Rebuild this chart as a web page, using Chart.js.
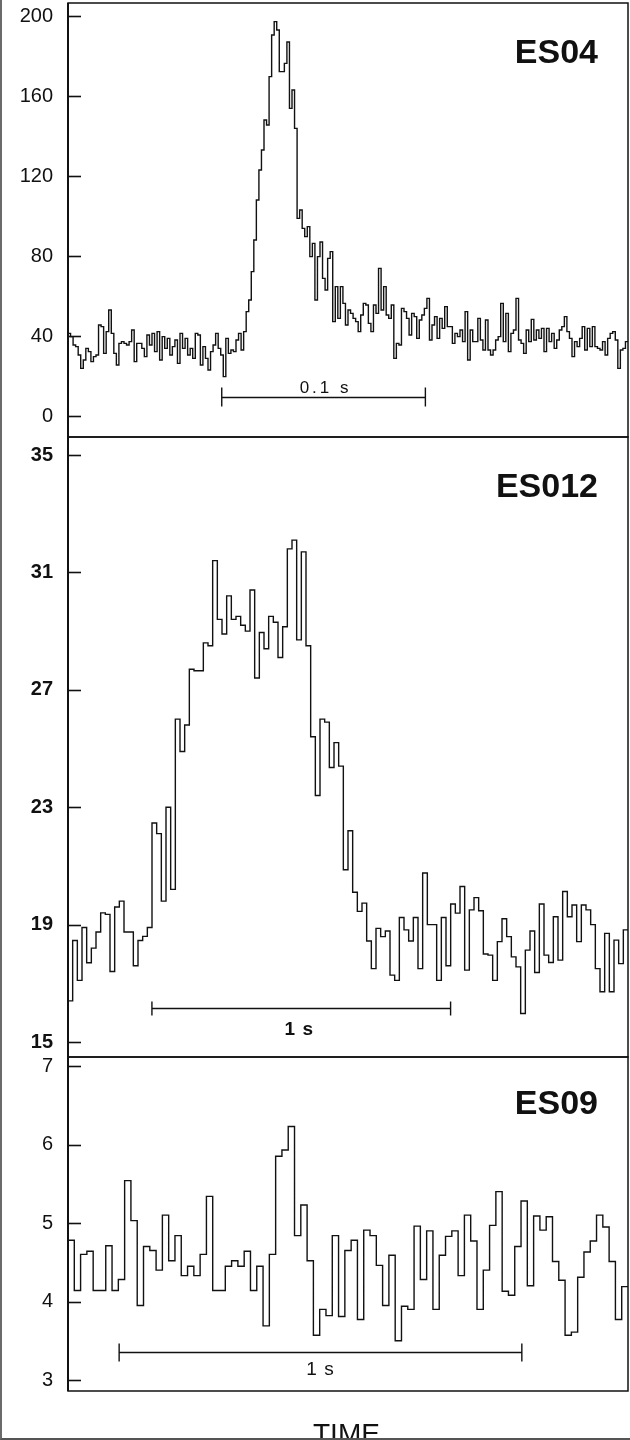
<!DOCTYPE html>
<html>
<head>
<meta charset="utf-8">
<script src="https://cdn.jsdelivr.net/npm/chart.js@4.4.1/dist/chart.umd.min.js"></script>
<style>
  html, body { margin: 0; padding: 0; background: #fff; width: 630px; height: 1440px; overflow: hidden; }
  .panel { position: absolute; left: 0; width: 630px; }
  .panel canvas { display: block; }
  #frame { position: absolute; left: 0; top: 0; width: 630px; height: 1440px; box-sizing: border-box;
           border-left: 2px solid #6a6a6a; border-bottom: 2px solid #555; pointer-events: none; }
</style>
</head>
<body>
<div class="panel" style="top:0px;height:440px"><canvas id="es04" width="630" height="440"></canvas></div>
<div class="panel" style="top:434px;height:626px"><canvas id="es012" width="630" height="626"></canvas></div>
<div class="panel" style="top:1054px;height:386px"><canvas id="es09" width="630" height="386"></canvas></div>
<div id="frame"></div>
<script>
// Light curves: counts per time bin for each source
const panelNames = ['ES04', 'ES012', 'ES09'];

// ES04: 1.25 ms bins
const es04BinSeconds = 0.00125;
const es04Counts = [
  41.3, 39.7, 35.5, 34.7, 30.5, 23.8, 28, 33.8, 32.2, 27.2,
  29.7, 30.5, 45.5, 44.7, 31.3, 42.2, 53, 41.3, 31.3, 25.5,
  36.3, 37.2, 36.3, 35.5, 37.2, 43, 27.2, 36.3, 36.3, 33.8,
  29.7, 40.5, 35.5, 41.3, 32.2, 42.2, 28, 39.7, 33.8, 38.8,
  30.5, 34.7, 38, 26.3, 41.3, 33.8, 38.8, 30.5, 33.8, 28.8,
  41.3, 40.5, 25.5, 34.7, 28.8, 23, 32.2, 35.5, 41.3, 33.8,
  30.5, 19.7, 38.8, 31.3, 33, 32.2,
  38, 41.3, 33,
  42.2, 52.2, 58, 72.2, 88, 108, 123, 133, 148, 145.5,
  169.7, 190.5, 197.2, 193, 172.2, 172.2, 176.3, 187, 153.8, 163,
  143.8, 98.8, 103, 93.8, 89.7, 94.7, 79.7, 86.3, 58, 79.7,
  87, 68.8, 63, 78.8, 82.2, 47.2, 64.7, 48.8, 64.7, 56.3,
  45.5, 53, 51.3, 48.8, 47.2, 42.2, 50.5, 56.3, 55.5, 46.3,
  42.2, 55.5, 51.3, 73.8, 53, 64.7, 50.5, 48.8, 55.5, 28.8,
  36.3, 35.5, 53.8, 52.2, 48.8, 40.5, 51.3, 49.7, 38.8, 48,
  50.5, 53.8, 58.8, 38, 45.5, 49.7, 38.8, 48.8, 43.8, 54.7,
  44.7, 44.7, 36.3, 41.3, 39.7, 43, 37.2, 52.2, 28, 43,
  37.2,
  37.2, 48.8, 38, 33, 48, 33, 30.5, 33, 38, 39.7,
  56.3, 37.2, 51.3, 32.2, 41.3, 43, 58.8, 38, 36.3, 31.3,
  43, 37.2, 48.3, 38, 43, 38.8, 43.8, 32.2, 43.8, 37.2,
  41.3, 33.8, 38, 43, 44.7, 49.7, 42.2, 38.8, 29.7, 37.2,
  34.7, 38.8, 44.7, 33, 43.8, 34.7, 44.7, 34.7, 33.8, 33,
  37.2, 30.5, 38.8, 41.3, 42.2, 38, 23.8, 33, 33.8, 37.2
];
const es04Ticks = [0, 40, 80, 120, 160, 200];

// ES012: 1/64 s bins
const es012BinSeconds = 1 / 64;
const es012Counts = [
  16.4, 18.46, 17.1, 18.9, 17.7, 18.2, 18.75, 19.4, 19.35, 17.4,
  19.6, 19.8, 18.75, 18.75, 17.6, 18.46, 18.6, 18.9, 22.46, 22.1,
  19.8, 23.0, 20.2, 26.0, 24.9, 25.8, 27.7, 27.65, 27.65, 28.6,
  28.5, 31.4, 29.4, 28.9, 30.2, 29.4, 29.5, 29.2, 29.0, 30.4,
  27.4, 28.95, 28.4, 29.5, 29.3, 28.1, 29.15, 31.8, 32.1, 28.7,
  31.7, 28.5, 25.4, 23.4, 26.0, 25.9, 24.35, 25.2, 24.4,
  20.87, 22.2, 20.1, 19.45, 19.73, 18.44, 17.5, 18.87, 18.59, 18.78,
  17.28, 17.1, 19.24, 18.82, 18.44, 19.24, 17.5, 20.76, 19.0, 19.0,
  17.1, 19.24, 17.6, 19.7, 19.39, 20.3, 17.45, 19.5, 19.92, 19.47,
  18.0, 17.96, 17.1, 18.42, 19.2, 18.59, 17.9, 17.56, 15.97, 18.13,
  18.78, 17.37, 19.7, 17.96, 17.71, 19.27, 17.79, 20.13, 19.27, 19.67,
  18.42, 19.67, 19.5, 19.0, 17.5, 16.71, 18.7, 16.71, 18.47, 17.67,
  18.82
];
const es012Ticks = [15, 19, 23, 27, 31, 35];

// ES09: 1/64 s bins
const es09BinSeconds = 1 / 64;
const es09Counts = [
  4.78, 4.14, 4.6, 4.64, 4.14, 4.14, 4.71, 4.14, 4.28, 5.54,
  5.03, 3.95, 4.70, 4.65, 4.40, 5.1, 4.52, 4.84, 4.33, 4.45,
  4.33, 4.6, 5.34, 4.14, 4.14, 4.45, 4.52, 4.45, 4.64, 4.14,
  4.45, 3.69, 4.6, 5.85, 5.93, 6.23, 4.84, 5.23, 4.52, 3.57,
  3.9, 3.82, 4.84, 3.81, 4.65, 4.78, 3.77, 4.91, 4.84, 4.46,
  3.95, 4.59, 3.5, 3.94, 3.9, 4.96, 4.28, 4.9, 3.9, 4.59,
  4.83, 4.9, 4.33, 5.1, 4.77, 3.9, 4.4, 4.97, 5.4, 4.13,
  4.08, 4.7, 5.28, 4.2, 5.09, 4.91, 5.08, 4.51, 4.27, 3.57,
  3.61, 4.31, 4.63, 4.77, 5.1, 4.95, 4.51, 3.77, 4.19
];
const es09Ticks = [3, 4, 5, 6, 7];

// Time scale bars: start time (s), length (s), count level, label
const scaleBarStart = [0.0755, 0.281, 0.127];
const scaleBarSeconds = [0.1, 1, 1];
const scaleBarLevel = [9.5, 16.16, 3.357];
const scaleBarLabels = ['0.1 s', '1 s', '1 s'];
const axisTitle = 'TIME';

const FONT = '"Liberation Sans", Arial, Helvetica, sans-serif';
const INK = '#111';

function stepPoints(counts, bin) {
  const pts = counts.map((v, i) => ({ x: i * bin, y: v }));
  pts.push({ x: counts.length * bin, y: counts[counts.length - 1] });
  return pts;
}

// Frame, inward tick marks, name, scale bar and bottom title
const panelDecor = {
  id: 'panelDecor',
  afterDraw(chart, args, o) {
    const ctx = chart.ctx;
    const { left, right, top, bottom } = chart.chartArea;
    const xs = chart.scales.x, ys = chart.scales.y;
    ctx.save();
    ctx.strokeStyle = INK;
    ctx.lineCap = 'butt';
    // box
    ctx.lineWidth = 1.5;
    ctx.strokeRect(left, top, right - left, bottom - top);
    ctx.lineWidth = 2;
    ctx.beginPath(); ctx.moveTo(left, top); ctx.lineTo(left, bottom); ctx.stroke();
    // tick marks pointing into the plot
    ctx.lineWidth = 1.6;
    o.ticks.forEach(v => {
      const y = Math.round(ys.getPixelForValue(v)) + 0.5;
      ctx.beginPath(); ctx.moveTo(left, y); ctx.lineTo(left + 13, y); ctx.stroke();
    });
    // source name
    ctx.fillStyle = INK;
    ctx.font = 'bold 34px ' + FONT;
    ctx.textAlign = 'right';
    ctx.textBaseline = 'alphabetic';
    ctx.fillText(o.name, right - 30, top + o.nameDrop);
    // scale bar
    const x1 = xs.getPixelForValue(o.barStart);
    const x2 = xs.getPixelForValue(o.barStart + o.barLength);
    const yb = Math.round(ys.getPixelForValue(o.barLevel)) + 0.5;
    ctx.lineWidth = 1.4;
    ctx.beginPath();
    ctx.moveTo(x1, yb); ctx.lineTo(x2, yb);
    ctx.moveTo(x1, yb - o.capUp); ctx.lineTo(x1, yb + o.capDown);
    ctx.moveTo(x2, yb - o.capUp); ctx.lineTo(x2, yb + o.capDown);
    ctx.stroke();
    ctx.font = o.barFont;
    ctx.textAlign = 'center';
    if ('letterSpacing' in ctx) ctx.letterSpacing = o.barSpacing;
    ctx.fillText(o.barLabel, (x1 + x2) / 2 + o.barLabelShift, yb + o.barLabelDy);
    if ('letterSpacing' in ctx) ctx.letterSpacing = '0px';
    if (o.title) {
      ctx.font = '28px ' + FONT;
      ctx.textAlign = 'left';
      ctx.fillText(o.title, 313, bottom + 52);
    }
    ctx.restore();
  }
};

function makePanel(id, idx, counts, bin, ticks, yMin, yMax, tickFont, decor, padBottom) {
  const data = stepPoints(counts, bin);
  return new Chart(document.getElementById(id), {
    type: 'line',
    data: {
      datasets: [{
        data: data,
        stepped: true,
        borderColor: INK,
        borderWidth: 1.4,
        pointRadius: 0,
        fill: false,
        tension: 0
      }]
    },
    options: {
      responsive: false,
      animation: false,
      events: [],
      layout: { autoPadding: false, padding: { left: 0, right: 2, top: 3, bottom: padBottom } },
      plugins: {
        legend: { display: false },
        tooltip: { enabled: false },
        panelDecor: Object.assign({
          name: panelNames[idx],
          ticks: ticks,
          barStart: scaleBarStart[idx],
          barLength: scaleBarSeconds[idx],
          barLevel: scaleBarLevel[idx],
          barLabel: scaleBarLabels[idx]
        }, decor)
      },
      scales: {
        x: {
          type: 'linear',
          display: false,
          min: 0,
          max: counts.length * bin
        },
        y: {
          type: 'linear',
          min: yMin,
          max: yMax,
          afterBuildTicks: s => { s.ticks = ticks.map(v => ({ value: v })); },
          afterFit: s => { s.width = 68; s.paddingTop = 0; s.paddingBottom = 0; },
          grid: { display: false, drawTicks: false },
          border: { display: false },
          ticks: {
            color: INK,
            padding: 15,
            autoSkip: false,
            maxRotation: 0,
            font: tickFont
          }
        }
      }
    },
    plugins: [panelDecor]
  });
}

makePanel('es04', 0, es04Counts, es04BinSeconds, es04Ticks, -10.5, 206.5,
  { family: FONT, size: 20, weight: 'normal' },
  { nameDrop: 60, capUp: 10, capDown: 9, barFont: '17px ' + FONT, barSpacing: '3px',
    barLabelDy: -5, barLabelShift: 2 }, 3);

makePanel('es012', 1, es012Counts, es012BinSeconds, es012Ticks, 14.489, 35.613,
  { family: FONT, size: 20, weight: 'bold' },
  { nameDrop: 60, capUp: 7, capDown: 7, barFont: 'bold 19px ' + FONT, barSpacing: '1px',
    barLabelDy: 26, barLabelShift: -2 }, 3);

makePanel('es09', 2, es09Counts, es09BinSeconds, es09Ticks, 2.86, 7.115,
  { family: FONT, size: 20, weight: 'normal' },
  { nameDrop: 57, capUp: 9, capDown: 9, barFont: '19px ' + FONT, barSpacing: '1px',
    barLabelDy: 22, barLabelShift: 0, title: axisTitle }, 49);
</script>
</body>
</html>
